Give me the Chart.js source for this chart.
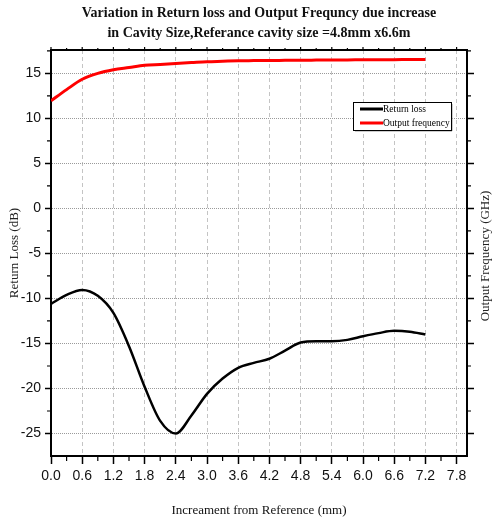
<!DOCTYPE html>
<html>
<head>
<meta charset="utf-8">
<script src="https://cdn.jsdelivr.net/npm/chart.js@4/dist/chart.umd.min.js"></script>
<style>
  html, body { margin: 0; padding: 0; background: #fff; }
</style>
</head>
<body>
<canvas id="chart" width="492" height="518"></canvas>
<script>
// data
const titleLines = [
  "Variation in Return loss and Output Frequncy due increase",
  "in Cavity Size,Referance cavity size =4.8mm x6.6m",
];
const increments = [0.0, 0.3, 0.6, 0.9, 1.2, 1.5, 1.8, 2.1, 2.4, 2.7, 3.0, 3.3, 3.6, 3.9, 4.2, 4.5, 4.8, 5.1, 5.4, 5.7, 6.0, 6.3, 6.6, 6.9, 7.2];
const returnLoss = [-10.6, -9.6, -9.05, -9.7, -11.6, -15.3, -19.8, -23.6, -25.0, -23.0, -20.6, -18.9, -17.7, -17.15, -16.7, -15.8, -14.9, -14.75, -14.75, -14.6, -14.2, -13.85, -13.6, -13.7, -14.0];
const outputFrequency = [11.95, 13.2, 14.35, 15.0, 15.4, 15.65, 15.9, 16.0, 16.1, 16.2, 16.3, 16.35, 16.4, 16.42, 16.44, 16.45, 16.46, 16.48, 16.5, 16.5, 16.52, 16.52, 16.53, 16.54, 16.55];
const xTickValues = [0.0, 0.6, 1.2, 1.8, 2.4, 3.0, 3.6, 4.2, 4.8, 5.4, 6.0, 6.6, 7.2, 7.8];
const yTickValues = [-25, -20, -15, -10, -5, 0, 5, 10, 15];

const serif = "'Liberation Serif', 'Times New Roman', serif";
const sans = "'Liberation Sans', Arial, sans-serif";

// frame top, minor ticks, legend box and the extra titles
const decorations = {
  id: "decorations",
  afterDraw(chart) {
    const { ctx, chartArea: a, scales } = chart;
    const x = scales.x;
    const y = scales.y;
    ctx.save();
    ctx.strokeStyle = "#000";
    ctx.lineWidth = 2;
    ctx.beginPath();
    ctx.moveTo(a.left - 1, a.top);
    ctx.lineTo(a.right + 1, a.top);
    ctx.stroke();

    ctx.lineWidth = 1.2;
    ctx.beginPath();
    xTickValues.forEach((v) => {
      const px = x.getPixelForValue(v);
      ctx.moveTo(px, a.top);
      ctx.lineTo(px, a.top - 3);
      const m = v + 0.3;
      if (m < x.max) {
        const pm = x.getPixelForValue(m);
        ctx.moveTo(pm, a.bottom);
        ctx.lineTo(pm, a.bottom + 5);
        ctx.moveTo(pm, a.top);
        ctx.lineTo(pm, a.top - 2);
      }
    });
    yTickValues.forEach((v) => {
      const m = v + 2.5;
      if (m < y.max) {
        const pm = y.getPixelForValue(m);
        ctx.moveTo(a.left, pm);
        ctx.lineTo(a.left - 4, pm);
        ctx.moveTo(a.right, pm);
        ctx.lineTo(a.right + 4, pm);
      }
    });
    ctx.stroke();

    // legend
    const lx = 353, ly = 102, lw = 98, lh = 28;
    ctx.fillStyle = "#fff";
    ctx.fillRect(lx, ly, lw, lh);
    ctx.strokeStyle = "#999";
    ctx.lineWidth = 1;
    ctx.beginPath();
    ctx.moveTo(lx + lw + 1, ly + 2);
    ctx.lineTo(lx + lw + 1, ly + lh + 1);
    ctx.lineTo(lx + 2, ly + lh + 1);
    ctx.stroke();
    ctx.strokeStyle = "#000";
    ctx.strokeRect(lx + 0.5, ly + 0.5, lw, lh);
    ctx.font = "9.5px " + serif;
    ctx.textBaseline = "middle";
    ctx.textAlign = "left";
    chart.data.datasets.forEach((ds, i) => {
      const yy = ly + 7 + i * 14;
      ctx.strokeStyle = ds.borderColor;
      ctx.lineWidth = 3;
      ctx.beginPath();
      ctx.moveTo(lx + 7, yy);
      ctx.lineTo(lx + 30, yy);
      ctx.stroke();
      ctx.fillStyle = "#000";
      ctx.fillText(ds.label, lx + 30, yy);
    });

    // main title
    const cx = (a.left + a.right) / 2;
    ctx.font = "bold 14px " + serif;
    ctx.textAlign = "center";
    ctx.fillStyle = "#111";
    ctx.fillText(titleLines[0], cx, 13);
    ctx.fillText(titleLines[1], cx, 33);

    // right axis title, reading bottom to top
    ctx.font = "13px " + serif;
    ctx.fillStyle = "#222";
    ctx.translate(486, (a.top + a.bottom) / 2 + 3);
    ctx.rotate(-Math.PI / 2);
    ctx.fillText("Output Frequency (GHz)", 0, 0);
    ctx.restore();
  },
};

new Chart(document.getElementById("chart"), {
  type: "line",
  data: {
    labels: increments,
    datasets: [
      {
        label: "Return loss",
        data: increments.map((v, i) => ({ x: v, y: returnLoss[i] })),
        borderColor: "#000",
        borderWidth: 2.5,
        cubicInterpolationMode: "monotone",
        pointRadius: 0,
      },
      {
        label: "Output frequency",
        data: increments.map((v, i) => ({ x: v, y: outputFrequency[i] })),
        borderColor: "#ff0000",
        borderWidth: 3,
        cubicInterpolationMode: "monotone",
        pointRadius: 0,
      },
    ],
  },
  options: {
    responsive: false,
    animation: false,
    layout: { padding: { top: 50, left: 0, right: 0, bottom: 0 } },
    plugins: {
      legend: { display: false },
      title: { display: false },
      tooltip: { enabled: false },
    },
    scales: {
      x: {
        type: "linear",
        position: "bottom",
        min: 0,
        max: 8.0,
        afterBuildTicks: (scale) => {
          scale.ticks = xTickValues.map((v) => ({ value: v }));
        },
        afterFit: (scale) => {
          scale.height = 62;
        },
        ticks: {
          color: "#111",
          font: { family: sans, size: 14 },
          padding: 4,
          maxRotation: 0,
          autoSkip: false,
          callback: (v) => Number(v).toFixed(1),
        },
        grid: {
          color: "#c4c4c4",
          lineWidth: 1,
          tickColor: "#000",
          tickLength: 8,
          tickWidth: 1.5,
        },
        border: { display: true, color: "#000", width: 2, dash: [4, 3] },
        title: {
          display: true,
          text: "Increament from Reference (mm)",
          color: "#111",
          font: { family: serif, size: 13 },
          padding: { top: 5, bottom: 0 },
        },
      },
      y: {
        position: "left",
        min: -27.5,
        max: 17.6,
        afterBuildTicks: (scale) => {
          scale.ticks = yTickValues.map((v) => ({ value: v }));
        },
        afterFit: (scale) => {
          scale.width = 51;
        },
        ticks: {
          color: "#111",
          font: { family: sans, size: 14 },
          padding: 4,
        },
        grid: {
          color: "#9a9a9a",
          lineWidth: 1,
          tickColor: "#000",
          tickLength: 6,
          tickWidth: 1.5,
        },
        border: { display: true, color: "#000", width: 2, dash: [1, 1] },
        title: {
          display: true,
          text: "Return Loss (dB)",
          color: "#222",
          font: { family: serif, size: 13 },
          padding: { top: 7, bottom: 0 },
        },
      },
      y2: {
        position: "right",
        min: -27.5,
        max: 17.6,
        afterBuildTicks: (scale) => {
          scale.ticks = yTickValues.map((v) => ({ value: v }));
        },
        afterFit: (scale) => {
          scale.width = 25;
        },
        ticks: { display: false },
        grid: {
          drawOnChartArea: false,
          tickColor: "#000",
          tickLength: 7,
          tickWidth: 1.5,
        },
        border: { display: true, color: "#000", width: 2 },
      },
    },
  },
  plugins: [decorations],
});
</script>
</body>
</html>
